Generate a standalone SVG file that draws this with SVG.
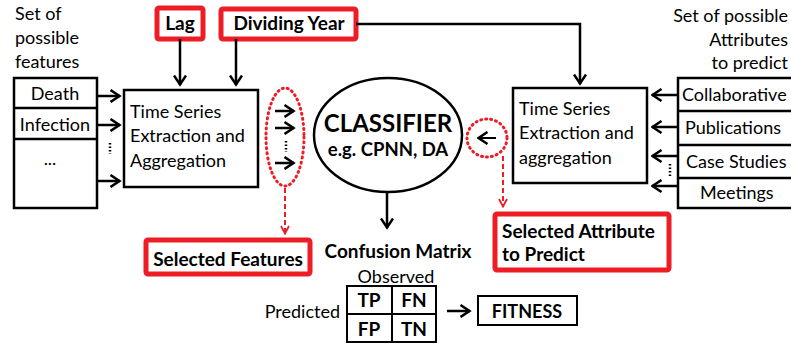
<svg xmlns="http://www.w3.org/2000/svg" width="791" height="343" viewBox="0 0 791 343">
<style>
text{font-family:Lato,"Liberation Sans",sans-serif;fill:#000}
.t{font-size:18px}
.b{font-size:19px;font-weight:bold}
.box{fill:#fff;stroke:#000;stroke-width:2.5}
.red{fill:#fff;stroke:#ee1c25;stroke-width:5}
.ln{stroke:#000;stroke-width:2.5;fill:none}
.rd{stroke:#ee1c25;stroke-width:2;fill:none;stroke-dasharray:5,3}
.dot{stroke:#ee1c25;stroke-width:3;fill:none;stroke-dasharray:1,4;stroke-linecap:round}
</style>
<defs>
<marker id="ah" markerUnits="userSpaceOnUse" viewBox="0 0 12 14" markerWidth="12" markerHeight="14" refX="10.5" refY="7" orient="auto">
<path d="M1,1 L10,7 L1,13" fill="none" stroke="#000" stroke-width="2.5"/>
</marker>
<marker id="rh" markerUnits="userSpaceOnUse" viewBox="0 0 10 10" markerWidth="10" markerHeight="10" refX="9" refY="5" orient="auto">
<path d="M1,1 L8.5,5 L1,9" fill="none" stroke="#ee1c25" stroke-width="1.8"/>
</marker>
</defs>

<g id="left-features-label">
<text class="t" x="15" y="20">Set of</text>
<text class="t" x="15" y="44">possible</text>
<text class="t" x="15" y="68">features</text>
</g>
<g id="left-features">
<rect class="box" x="14" y="78" width="83" height="130"/>
<line class="ln" x1="14" y1="108" x2="97" y2="108"/>
<line class="ln" x1="14" y1="139" x2="97" y2="139"/>
<text class="t" x="55" y="100" text-anchor="middle">Death</text>
<text class="t" x="55" y="131" text-anchor="middle">Infection</text>
<text class="t" x="50" y="165" text-anchor="middle">...</text>
</g>

<g id="lag">
<rect class="red" x="157" y="8" width="46" height="31" rx="2"/>
<text class="b" x="180" y="30" text-anchor="middle">Lag</text>
</g>
<g id="dividing-year">
<rect class="red" x="221" y="9" width="135" height="30" rx="2"/>
<text class="b" x="289" y="30" text-anchor="middle">Dividing Year</text>
</g>

<g id="ts-left">
<rect class="box" x="124" y="90" width="134" height="97"/>
<text class="t" x="130" y="118">Time Series</text>
<text class="t" x="130" y="142">Extraction and</text>
<text class="t" x="130" y="167">Aggregation</text>
</g>

<g id="selected-features-group">
<ellipse class="dot" cx="285" cy="137" rx="19" ry="49"/>
</g>

<g id="selected-features">
<rect class="red" x="146" y="240" width="164" height="34" rx="2"/>
<text class="b" x="228" y="266" text-anchor="middle">Selected Features</text>
</g>

<g id="classifier">
<ellipse class="ln" cx="388" cy="135" rx="74" ry="57"/>
<text x="388" y="132" text-anchor="middle" style="font-size:24px;font-weight:bold">CLASSIFIER</text>
<text x="388" y="156" text-anchor="middle" style="font-size:18.5px;font-weight:bold">e.g. CPNN, DA</text>
</g>

<g id="confusion-matrix">
<text class="b" x="398" y="258" text-anchor="middle">Confusion Matrix</text>
<text class="t" x="396" y="283" text-anchor="middle">Observed</text>
<text class="t" x="340" y="318" text-anchor="end">Predicted</text>
<rect class="box" x="347" y="286" width="89" height="56" style="stroke-width:2"/>
<line class="ln" x1="392" y1="286" x2="392" y2="342" style="stroke-width:2"/>
<line class="ln" x1="347" y1="314" x2="436" y2="314" style="stroke-width:2"/>
<text class="b" x="369" y="307" text-anchor="middle">TP</text>
<text class="b" x="414" y="307" text-anchor="middle">FN</text>
<text class="b" x="369" y="336" text-anchor="middle">FP</text>
<text class="b" x="414" y="336" text-anchor="middle">TN</text>
</g>

<g id="fitness">
<rect class="box" x="478" y="296" width="99" height="29" style="stroke-width:2"/>
<text class="b" x="527" y="318" text-anchor="middle" style="font-size:18px">FITNESS</text>
</g>

<g id="ts-right">
<rect class="box" x="513" y="88" width="134" height="95"/>
<text class="t" x="519" y="115">Time Series</text>
<text class="t" x="519" y="139">Extraction and</text>
<text class="t" x="519" y="164">aggregation</text>
</g>

<g id="selected-attribute-group">
<ellipse class="dot" cx="487" cy="138" rx="20" ry="19"/>
</g>

<g id="selected-attribute">
<rect class="red" x="495" y="214" width="174" height="56" rx="2"/>
<text class="b" x="502" y="238">Selected Attribute</text>
<text class="b" x="502" y="261">to Predict</text>
</g>

<g id="right-attributes-label">
<text class="t" x="788" y="22" text-anchor="end">Set of possible</text>
<text class="t" x="788" y="46" text-anchor="end">Attributes</text>
<text class="t" x="788" y="69" text-anchor="end">to predict</text>
</g>
<g id="right-attributes">
<rect class="box" x="678" y="78" width="120" height="130"/>
<line class="ln" x1="678" y1="111" x2="791" y2="111"/>
<line class="ln" x1="678" y1="145" x2="791" y2="145"/>
<line class="ln" x1="678" y1="178" x2="791" y2="178"/>
<text class="t" x="682" y="101">Collaborative</text>
<text class="t" x="685" y="134">Publications</text>
<text class="t" x="686" y="168">Case Studies</text>
<text class="t" x="700" y="199">Meetings</text>
</g>

<g id="connectors">
<line class="ln" x1="97" y1="96" x2="120" y2="96" marker-end="url(#ah)"/>
<line class="ln" x1="97" y1="125" x2="120" y2="125" marker-end="url(#ah)"/>
<line class="ln" x1="97" y1="181" x2="120" y2="181" marker-end="url(#ah)"/>
<line x1="110" y1="143" x2="110" y2="154" stroke="#000" stroke-width="2.5" stroke-dasharray="1.5,2"/>
<line class="ln" x1="180" y1="39" x2="180" y2="85" marker-end="url(#ah)"/>
<line class="ln" x1="236" y1="39" x2="236" y2="85" marker-end="url(#ah)"/>
<polyline class="ln" points="356,24 580,24 580,84" marker-end="url(#ah)"/>
<line class="ln" x1="275" y1="111" x2="294" y2="111" marker-end="url(#ah)"/>
<line class="ln" x1="275" y1="128" x2="294" y2="128" marker-end="url(#ah)"/>
<line class="ln" x1="275" y1="163" x2="294" y2="163" marker-end="url(#ah)"/>
<line x1="286" y1="141" x2="286" y2="152" stroke="#000" stroke-width="2.5" stroke-dasharray="1.5,2"/>
<line class="rd" x1="285" y1="188" x2="285" y2="234" marker-end="url(#rh)"/>
<line class="ln" x1="387" y1="192" x2="387" y2="228" marker-end="url(#ah)"/>
<line class="ln" x1="496" y1="138" x2="478" y2="138" style="stroke-width:2" marker-end="url(#ah)"/>
<line class="rd" x1="503" y1="156" x2="503" y2="207" marker-end="url(#rh)"/>
<line class="ln" x1="447" y1="311" x2="470" y2="311" marker-end="url(#ah)"/>
<line class="ln" x1="677" y1="95" x2="652" y2="95" marker-end="url(#ah)"/>
<line class="ln" x1="677" y1="127" x2="652" y2="127" marker-end="url(#ah)"/>
<line class="ln" x1="677" y1="156" x2="652" y2="156" marker-end="url(#ah)"/>
<line class="ln" x1="677" y1="186" x2="652" y2="186" marker-end="url(#ah)"/>
<line x1="670" y1="164" x2="670" y2="176" stroke="#000" stroke-width="2.5" stroke-dasharray="1.5,2"/>
</g>
</svg>
